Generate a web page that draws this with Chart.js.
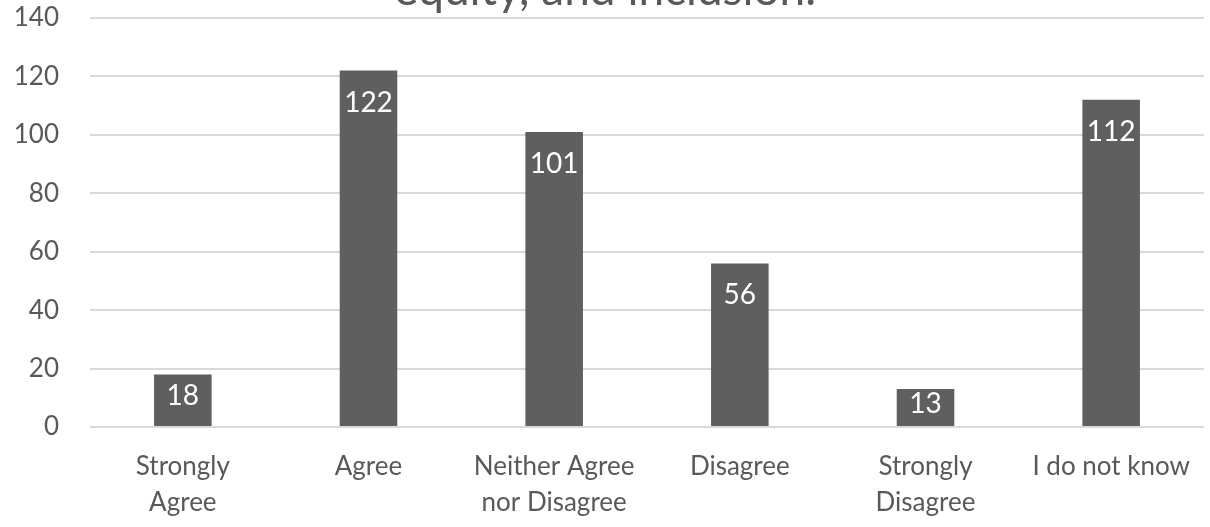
<!DOCTYPE html>
<html>
<head>
<meta charset="utf-8">
<script src="https://cdn.jsdelivr.net/npm/chart.js@4/dist/chart.umd.min.js"></script>
<style>
  html, body { margin: 0; padding: 0; background: #ffffff; overflow: hidden; }
  #wrap { position: relative; width: 1210px; height: 527px; }
</style>
</head>
<body>
<div id="wrap"><canvas id="c" width="1210" height="527"></canvas></div>
<script>
const categories = [["Strongly", "Agree"], "Agree", ["Neither Agree", "nor Disagree"], "Disagree", ["Strongly", "Disagree"], "I do not know"];
const responses = [18, 122, 101, 56, 13, 112];
const yTicks = [0, 20, 40, 60, 80, 100, 120, 140];
const titleText = "equity, and inclusion.";

const FONT = "Lato, 'Open Sans', sans-serif";
const TEXT = "#595959";

const titlePlugin = {
  id: 'clippedTitle',
  afterDraw(chart) {
    const ctx = chart.ctx;
    ctx.save();
    ctx.font = "46px " + FONT;
    ctx.fillStyle = TEXT;
    ctx.textAlign = 'center';
    ctx.textBaseline = 'alphabetic';
    ctx.fillText(titleText, chart.width / 2, chart.chartArea.top - 13);
    ctx.restore();
  }
};

const labelPlugin = {
  id: 'barLabels',
  afterDatasetsDraw(chart) {
    const ctx = chart.ctx;
    const meta = chart.getDatasetMeta(0);
    const ds = chart.data.datasets[0];
    ctx.save();
    ctx.font = "28px " + FONT;
    ctx.fillStyle = "#ffffff";
    ctx.textAlign = 'center';
    ctx.textBaseline = 'middle';
    meta.data.forEach((bar, i) => {
      const top = bar.y, bottom = bar.base;
      const cy = Math.min(top + 32, (top + bottom) / 2 - 4);
      ctx.fillText(String(ds.data[i]), bar.x, cy);
    });
    ctx.restore();
  }
};

new Chart(document.getElementById('c'), {
  type: 'bar',
  data: {
    labels: categories,
    datasets: [{
      data: responses,
      backgroundColor: '#5f5f5f',
      borderWidth: 0,
      categoryPercentage: 1.0,
      barPercentage: 0.31
    }]
  },
  options: {
    responsive: false,
    animation: false,
    layout: { padding: { top: 18, right: 6, left: 0, bottom: 0 } },
    plugins: {
      legend: { display: false },
      title: { display: false },
      tooltip: { enabled: false }
    },
    scales: {
      x: {
        grid: { display: false, drawTicks: false },
        border: { display: false },
        afterFit(axis) { axis.height = 100; axis.paddingLeft = 0; axis.paddingRight = 0; },
        ticks: {
          color: TEXT,
          font: { family: FONT, size: 26, lineHeight: 1.4 },
          padding: 21,
          maxRotation: 0,
          autoSkip: false
        }
      },
      y: {
        min: 0,
        max: 140,
        afterBuildTicks(axis) { axis.ticks = yTicks.map(v => ({ value: v })); },
        afterFit(axis) { axis.width = 90; axis.paddingTop = 0; axis.paddingBottom = 0; },
        grid: { color: '#d9d9d9', lineWidth: 2, drawTicks: false },
        border: { display: false },
        ticks: {
          color: TEXT,
          font: { family: FONT, size: 26 },
          padding: 31
        }
      }
    }
  },
  plugins: [titlePlugin, labelPlugin]
});
</script>
</body>
</html>
